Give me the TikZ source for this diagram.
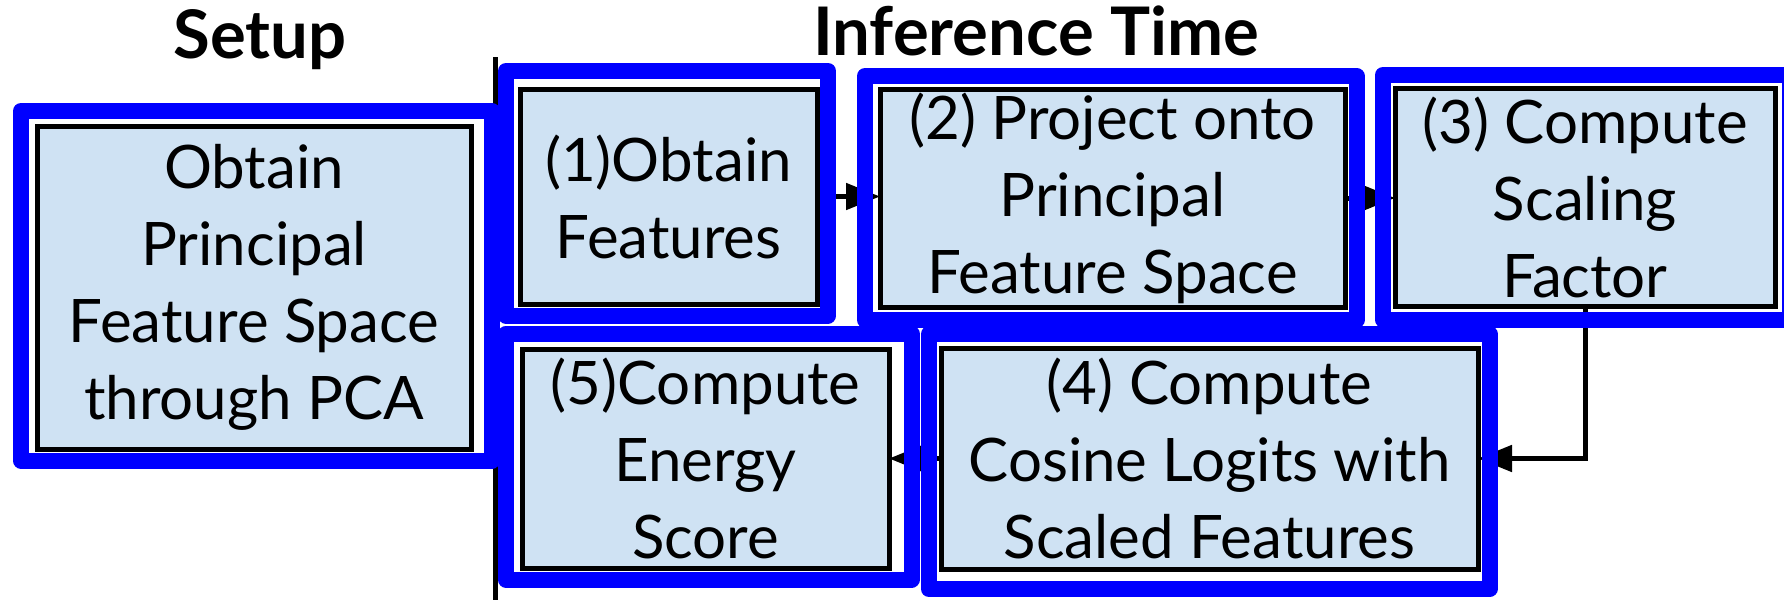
\documentclass[tikz,border=0pt]{standalone}
\usepackage{fontspec}
\usepackage{graphicx}
\setmainfont{Lato}
\usetikzlibrary{arrows.meta}
\definecolor{boxfill}{HTML}{CFE2F3}
\begin{document}
\begin{tikzpicture}[x=0.5pt,y=-0.5pt,
  stepbox/.style={draw=black, line width=2.5pt, fill=boxfill, rectangle, inner sep=0pt, outer sep=0pt, align=center, font=\fontsize{30}{38.5}\selectfont, execute at begin node={\rule{0pt}{29pt}}},
  hl/.style={draw=blue, line width=8pt, line join=round, rectangle, inner sep=0pt, outer sep=0pt},
  conn/.style={draw=black, line width=2.5pt, -{Triangle[length=17pt,width=13pt]}},
  title/.style={font=\fontsize{33.5}{40}\selectfont\bfseries, anchor=base, inner sep=0pt}]
\useasboundingbox (0,0) rectangle (1784,600);
% titles
\node[title] (tsetup) at (260,58) {Setup};
\node[title] (tinf) at (1036,55) {Inference Time};
% divider
\coordinate (dtop) at (495.5,57);
\coordinate (dbot) at (495.5,600);
\draw[line width=2.25pt] (dtop) -- (dbot);
% boxes
\node[stepbox, minimum width=217pt, minimum height=161.5pt] (s0) at (254,287.5) {Obtain\\Principal\\Feature Space\\through PCA};
\node[stepbox, minimum width=148.5pt, minimum height=107.5pt] (b1) at (668.5,196.5) {(1)Obtain\\Features};
\node[stepbox, minimum width=232.5pt, minimum height=109pt] (b2) at (1112.5,198) {(2) Project onto\\Principal\\Feature Space};
\node[stepbox, minimum width=190pt, minimum height=109pt] (b3) at (1585,197) {(3) Compute\\Scaling\\Factor};
\node[stepbox, minimum width=183.5pt, minimum height=109.5pt] (b5) at (705.5,458.5) {(5)Compute\\Energy\\Score};
\node[stepbox, minimum width=268.5pt, minimum height=110.5pt] (b4) at (1209.5,458.5) {(4) Compute\\Cosine Logits with\\Scaled Features};
% connectors
\draw[conn] (b1.east) -- (b1.east -| b2.west);
\draw[conn] (b2.east) -- (b2.east -| b3.west);
\draw[conn] (b3.south) |- (b4.east);
\draw[conn] (b4.west) -- (b5.east);
% highlights
\node[hl, minimum width=235.5pt, minimum height=174.75pt] (h0) at (256.5,285.75) {};
\node[hl, minimum width=161pt, minimum height=122.25pt] (h1) at (667,193.25) {};
\node[hl, minimum width=245.75pt, minimum height=122pt] (h2) at (1110.75,198) {};
\node[hl, minimum width=203.5pt, minimum height=122.25pt] (h3) at (1586.5,197.25) {};
\node[hl, minimum width=202.75pt, minimum height=123pt] (h5) at (708.75,456.5) {};
\node[hl, minimum width=280.25pt, minimum height=127.5pt] (h4) at (1209.25,461.5) {};
\end{tikzpicture}
\end{document}
